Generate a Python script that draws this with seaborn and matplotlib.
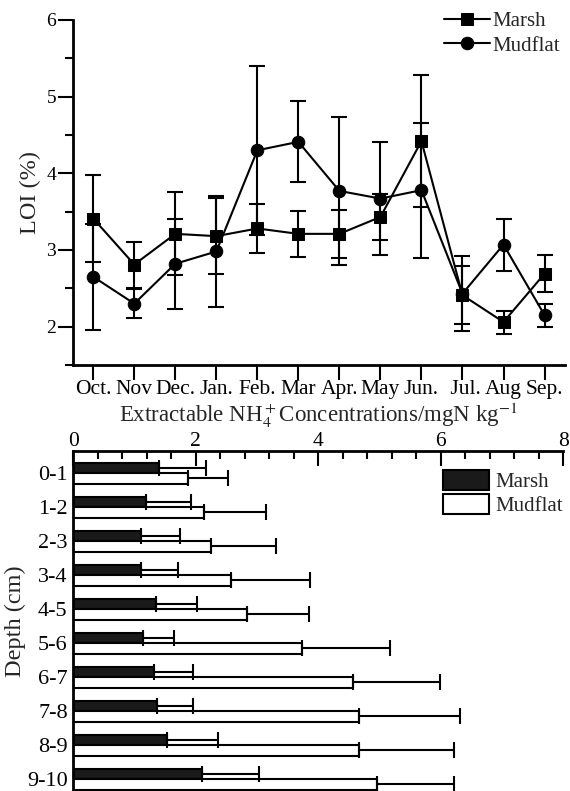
import numpy as np
import pandas as pd
import matplotlib
matplotlib.use('Agg')
import matplotlib.pyplot as plt
from matplotlib.patches import Patch
from matplotlib.ticker import MultipleLocator
import seaborn as sns

# datos LOI mensual
meses = ['Oct.', 'Nov', 'Dec.', 'Jan.', 'Feb.', 'Mar', 'Apr.', 'May', 'Jun.', ' Jul.', 'Aug', 'Sep.']
loi_marsh = [3.41, 2.81, 3.21, 3.18, 3.28, 3.21, 3.21, 3.43, 4.42, 2.41, 2.06, 2.69]
err_marsh = [0.57, 0.30, 0.54, 0.50, 0.32, 0.30, 0.31, 0.30, 0.86, 0.38, 0.15, 0.24]
loi_mud = [2.65, 2.30, 2.82, 2.98, 4.30, 4.41, 3.77, 3.67, 3.78, 2.43, 3.07, 2.15]
err_mud = [0.69, 0.19, 0.59, 0.72, 1.10, 0.53, 0.96, 0.74, 0.88, 0.49, 0.34, 0.15]

# datos NH4+ por profundidad
profundidad = ['0-1', '1-2', '2-3', '3-4', '4-5', '5-6', '6-7', '7-8', '8-9', '9-10']
nh4_marsh = [1.40, 1.19, 1.11, 1.11, 1.35, 1.13, 1.31, 1.37, 1.53, 2.10]
nh4_marsh_err = [0.77, 0.73, 0.63, 0.60, 0.67, 0.52, 0.64, 0.59, 0.84, 0.94]
nh4_mud = [1.87, 2.14, 2.25, 2.58, 2.83, 3.73, 4.56, 4.67, 4.67, 4.96]
nh4_mud_err = [0.65, 1.00, 1.06, 1.29, 1.02, 1.44, 1.42, 1.64, 1.54, 1.26]

sns.set_theme(style='ticks')
plt.rcParams['font.family'] = ['Liberation Serif', 'DejaVu Serif']
plt.rcParams['mathtext.fontset'] = 'stix'
plt.rcParams['axes.linewidth'] = 2.0
plt.rcParams['axes.edgecolor'] = 'black'
plt.rcParams['xtick.color'] = 'black'
plt.rcParams['ytick.color'] = 'black'

fig = plt.figure(figsize=(5.7, 7.91), dpi=100)

# ---- panel superior: LOI ----
ax1 = fig.add_axes([0.1276, 0.5386, 0.8637, 0.4362])
df_loi = pd.DataFrame({
    'idx': list(range(len(meses))) * 2,
    'loi': loi_marsh + loi_mud,
    'site': ['Marsh'] * len(meses) + ['Mudflat'] * len(meses),
})
sns.lineplot(data=df_loi, x='idx', y='loi', style='site',
             markers={'Marsh': 's', 'Mudflat': 'o'}, dashes=False,
             color='black', linewidth=1.5, markersize=9, markeredgecolor='black',
             ax=ax1, zorder=3)
x_idx = np.arange(len(meses))
ax1.errorbar(x_idx, loi_marsh, yerr=err_marsh, fmt='none', ecolor='black',
             elinewidth=1.5, capsize=6, capthick=1.5, zorder=2)
ax1.errorbar(x_idx, loi_mud, yerr=err_mud, fmt='none', ecolor='black',
             elinewidth=1.5, capsize=6, capthick=1.5, zorder=2)
ax1.set_xlim(-0.5, 11.5)
ax1.set_ylim(1.5, 6)
ax1.set_xticks(x_idx, meses)
ax1.set_yticks([2, 3, 4, 5, 6])
ax1.yaxis.set_minor_locator(MultipleLocator(0.5))
ax1.tick_params(axis='both', which='major', length=11, width=1.5, pad=1)
ax1.tick_params(axis='x', labelsize=15.5, pad=0)
ax1.tick_params(axis='y', labelsize=14)
ax1.tick_params(axis='y', which='minor', length=6, width=1.5)
ax1.set_xlabel('')
ax1.set_ylabel('LOI (%)', fontsize=17.5, labelpad=4)
sns.despine(ax=ax1)
ax1.legend(loc='upper left', bbox_to_anchor=(0.755, 1.025), frameon=False,
           fontsize=15, handlelength=2.2, handletextpad=0.1, labelspacing=0.25,
           borderpad=0, borderaxespad=0)

# ---- panel inferior: NH4+ ----
ax2 = fig.add_axes([0.1286, 0.0, 0.8596, 0.4298])
df_nh4 = pd.DataFrame({
    'depth': profundidad * 2,
    'value': nh4_marsh + nh4_mud,
    'site': ['Marsh'] * len(profundidad) + ['Mudflat'] * len(profundidad),
})
colores = {'Marsh': '#1a1a1a', 'Mudflat': 'white'}
sns.barplot(data=df_nh4, y='depth', x='value', hue='site', orient='h',
            palette=colores, edgecolor='black', linewidth=1.5, width=0.62,
            errorbar=None, legend=False, ax=ax2)
for cont, errs in zip(ax2.containers, [nh4_marsh_err, nh4_mud_err]):
    ys = [b.get_y() + b.get_height() / 2 for b in cont]
    xs = [b.get_width() for b in cont]
    ax2.errorbar(xs, ys, xerr=[np.zeros(len(errs)), errs], fmt='none',
                 ecolor='black', elinewidth=1.5, capsize=5.5, capthick=1.5)
ax2.set_xlim(0, 8)
ax2.set_ylim(9.35, -0.65)
ax2.xaxis.set_ticks_position('top')
ax2.xaxis.set_label_position('top')
ax2.set_xticks([0, 2, 4, 6, 8])
ax2.xaxis.set_minor_locator(MultipleLocator(0.4))
ax2.tick_params(axis='x', which='major', direction='in', length=11, width=1.5,
                labelsize=15.5, pad=0)
ax2.tick_params(axis='x', which='minor', direction='in', length=6, width=1.5)
ax2.tick_params(axis='y', length=0, labelsize=16, pad=4)
ax2.set_xlabel('Extractable NH$_4^+$Concentrations/mgN kg$^{-1}$', fontsize=16.5, labelpad=7)
ax2.set_ylabel('Depth (cm)', fontsize=17.5, labelpad=1)
ax2.spines['right'].set_visible(False)
ax2.spines['bottom'].set_visible(False)
handles = [Patch(facecolor='#1a1a1a', edgecolor='black', linewidth=1.5, label='Marsh'),
           Patch(facecolor='white', edgecolor='black', linewidth=1.5, label='Mudflat')]
ax2.legend(handles=handles, loc='upper left', bbox_to_anchor=(0.755, 0.945),
           frameon=False, fontsize=15, handlelength=2.2, handleheight=1.1,
           handletextpad=0.3, labelspacing=0.1, borderpad=0, borderaxespad=0)

fig.savefig('out.png', dpi=100)
